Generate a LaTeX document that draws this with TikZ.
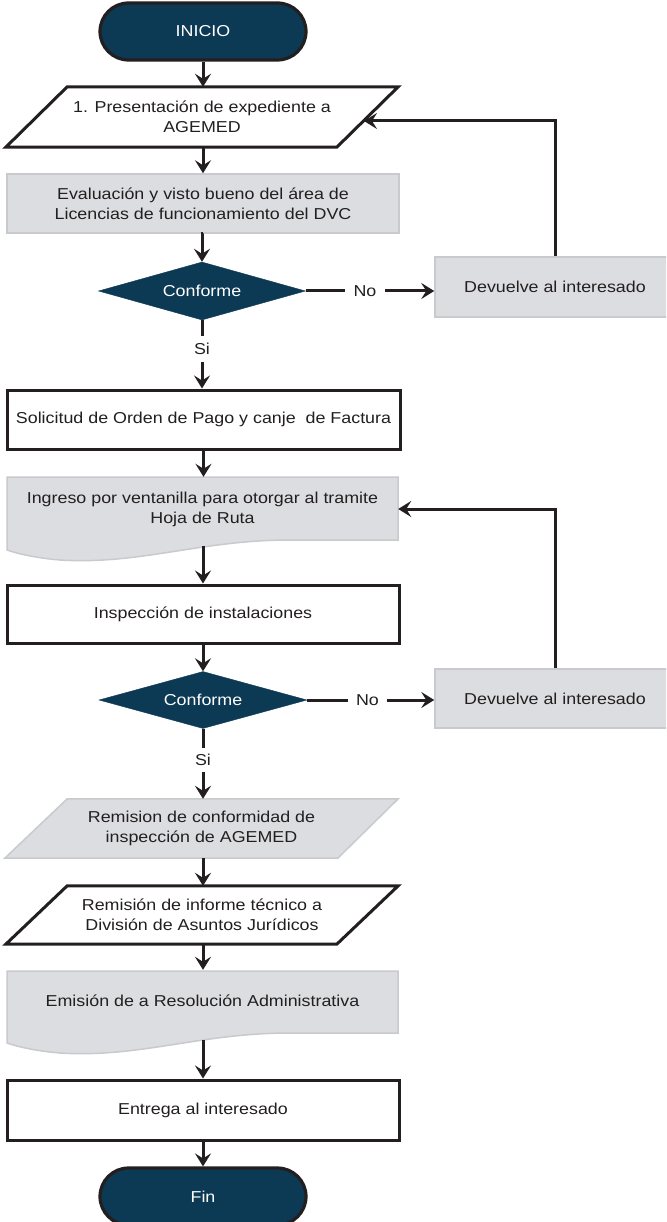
\documentclass[tikz,border=0pt]{standalone}
\usepackage{fontspec}
\setmainfont{Liberation Sans}[FakeStretch=1.13]
\usetikzlibrary{shapes.geometric,shapes.misc,arrows.meta,calc,backgrounds}
\definecolor{navy}{HTML}{0C3953}
\definecolor{boxgray}{HTML}{DCDDE0}
\definecolor{edgegray}{HTML}{C9CACD}
\definecolor{ink}{HTML}{231F20}
\begin{document}
\begin{tikzpicture}[x=1pt,y=-1pt,
  every node/.style={font=\fontsize{15.8}{20}\selectfont, text=ink, align=center, inner sep=0pt},
  term/.style={rounded rectangle, draw=ink, line width=3.2pt, fill=navy, text=white, minimum width=206pt, minimum height=57pt},
  decision/.style={diamond, fill=navy, draw=navy, text=white, aspect=3.5, minimum width=207pt, minimum height=58pt},
  graybox/.style={rectangle, draw=edgegray, line width=1.5pt, fill=boxgray},
  whitebox/.style={rectangle, draw=ink, line width=3pt, fill=white},
  frame/.style={rectangle, draw=none},
  grayshape/.style={draw=edgegray, line width=1.5pt, fill=boxgray},
  whiteshape/.style={draw=ink, line width=3pt, fill=white, line join=miter},
  conn/.style={draw=ink, line width=3pt},
  arr/.style={conn, -{Stealth[length=13pt,width=16pt,inset=5pt]}},
  lbl/.style={rectangle, draw=none}
]
\useasboundingbox (0,0) rectangle (666,1222);
\clip (0,0) rectangle (666,1222);

% nodes
\node[term] (start) at (203,31.5) {INICIO};
\node[frame, minimum width=392pt, minimum height=60pt] (p1) at (202,117) {1. Presentación de expediente a\\AGEMED};
\node[graybox, minimum width=392pt, minimum height=59pt] (eval) at (203,203.5) {Evaluación y visto bueno del área de\\Licencias de funcionamiento del DVC};
\node[decision] (d1) at (202,291) {Conforme};
\node[lbl, minimum width=40pt, minimum height=20pt] (no1) at (365,291) {No};
\node[graybox, minimum width=240pt, minimum height=60pt] (ret1) at (555,287) {Devuelve al interesado};
\node[lbl, minimum width=20pt, minimum height=26pt] (si1) at (202,349) {Si};
\node[whitebox, minimum width=393pt, minimum height=59pt] (sol) at (203.5,419.5) {Solicitud de Orden de Pago y canje\ \ de Factura};
\node[frame, minimum width=391pt, minimum height=64pt] (doc1) at (202.5,509) {Ingreso por ventanilla para otorgar al tramite\\Hoja de Ruta};
\coordinate (doc1out) at (203,546);
\node[whitebox, minimum width=392pt, minimum height=58pt] (insp) at (203,614) {Inspección de instalaciones};
\node[decision, minimum width=208pt, minimum height=57pt] (d2) at (203,700) {Conforme};
\node[lbl, minimum width=39pt, minimum height=20pt] (no2) at (367.5,700) {No};
\node[graybox, minimum width=240pt, minimum height=59pt] (ret2) at (555,698.5) {Devuelve al interesado};
\node[lbl, minimum width=20pt, minimum height=24pt] (si2) at (203,760) {Si};
\node[frame, minimum width=393pt, minimum height=59pt] (rem1) at (201.5,828.5) {Remision de conformidad de\\inspección de AGEMED};
\node[frame, minimum width=392pt, minimum height=58pt] (rem2) at (202,915) {Remisión de informe técnico a\\División de Asuntos Jurídicos};
\node[frame, minimum width=391pt, minimum height=62pt] (doc2) at (202.5,1001) {Emisión de a Resolución Administrativa};
\coordinate (doc2out) at (203,1040);
\node[whitebox, minimum width=392pt, minimum height=60pt] (ent) at (203,1110) {Entrega al interesado};
\node[term] (fin) at (203,1196.5) {Fin};
\coordinate (p1in) at (364,121);

% shapes behind text
\begin{scope}[on background layer]
  \path[whiteshape] (p1.south west) -- ++(331,0) -- (p1.north east) -- ++(-331,0) -- cycle;
  \path[grayshape] (rem1.south west) -- ++(333,0) -- (rem1.north east) -- ++(-331,0) -- cycle;
  \path[whiteshape] (rem2.south west) -- ++(331,0) -- (rem2.north east) -- ++(-331,0) -- cycle;
  \begin{scope}[shift={(0,477)}]
    \path[grayshape] (7,0) -- (398,0) -- (398,63) -- (290,63) .. controls (200,63) and (140,88) .. (60,83) .. controls (35,81) and (15,76) .. (7,73) -- cycle;
  \end{scope}
  \begin{scope}[shift={(0,971)}]
    \path[grayshape] (7,0) -- (398,0) -- (398,62) -- (290,62) .. controls (200,62) and (140,87) .. (60,82) .. controls (35,80) and (15,75) .. (7,72) -- cycle;
  \end{scope}
\end{scope}

% connectors
\draw[arr] (start.south) -- (start.south |- p1.north);
\draw[arr] (eval.north |- p1.south) -- (eval.north);
\draw[arr] (eval.south) -- (eval.south -| d1.north) -- (d1.north);
\draw[conn] (d1.south) -- (si1.north);
\draw[arr] (si1.south) -- (si1.south |- sol.north);
\draw[conn] (d1.east) -- (no1.west);
\draw[arr] (no1.east) -- (no1.east -| ret1.west);
\draw[arr] (ret1.north) |- (p1in);
\draw[arr] (sol.south) -- (sol.south |- doc1.north);
\draw[arr] (doc1out) -- (doc1out |- insp.north);
\draw[arr] (insp.south) -- (insp.south |- d2.north);
\draw[conn] (d2.south) -- (si2.north);
\draw[arr] (si2.south) -- (si2.south |- rem1.north);
\draw[conn] (d2.east) -- (no2.west);
\draw[arr] (no2.east) -- (no2.east -| ret2.west);
\draw[arr] (ret2.north) |- (doc1.east);
\draw[arr] (si2.south |- rem1.south) -- (si2.south |- rem2.north);
\draw[arr] (si2.south |- rem2.south) -- (si2.south |- doc2.north);
\draw[arr] (doc2out) -- (doc2out |- ent.north);
\draw[arr] (ent.south) -- (ent.south |- fin.north);
\end{tikzpicture}
\end{document}
